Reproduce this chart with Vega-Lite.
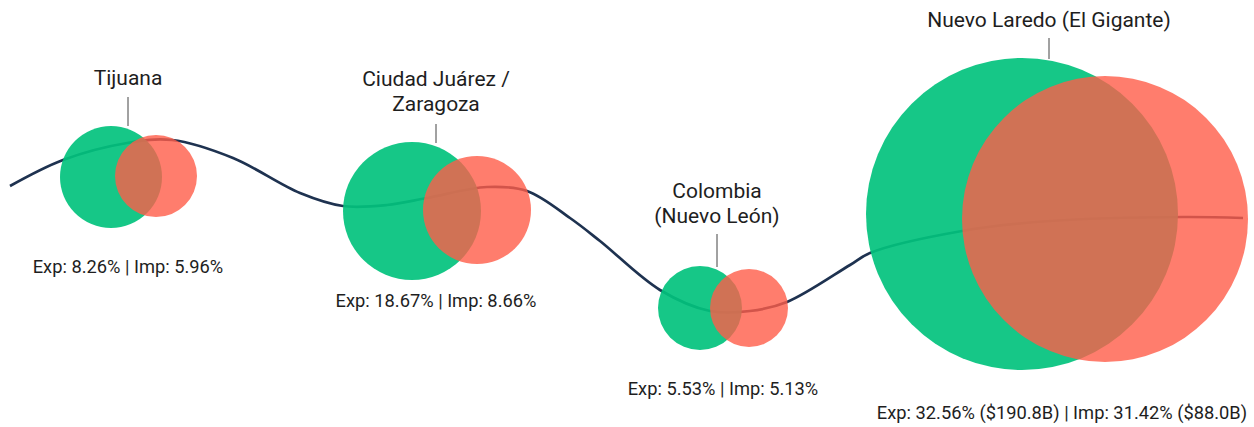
{
  "$schema": "https://vega.github.io/schema/vega-lite/v6.json",
  "width": 1254,
  "height": 427,
  "padding": 0,
  "autosize": {"type": "fit", "contains": "padding"},
  "background": "white",
  "config": {"view": {"stroke": null}},
  "datasets": {
    "wave": [
      {"x": 10, "y": 186}, {"x": 63, "y": 160}, {"x": 127, "y": 143}, {"x": 172, "y": 140},
      {"x": 233, "y": 158}, {"x": 300, "y": 193}, {"x": 343, "y": 206}, {"x": 387, "y": 205},
      {"x": 427, "y": 198}, {"x": 487, "y": 187}, {"x": 527, "y": 191}, {"x": 570, "y": 218},
      {"x": 600, "y": 241}, {"x": 660, "y": 290}, {"x": 710, "y": 311}, {"x": 750, "y": 311},
      {"x": 787, "y": 302}, {"x": 850, "y": 265}, {"x": 870, "y": 253}, {"x": 962, "y": 231},
      {"x": 1050, "y": 221}, {"x": 1183, "y": 217}, {"x": 1243, "y": 218}
    ],
    "bubbles": [
      {"port": "Tijuana", "flow": "Exp", "pct": 8.26, "x": 111, "y": 177, "mag": 51},
      {"port": "Ciudad Juárez / Zaragoza", "flow": "Exp", "pct": 18.67, "x": 412, "y": 211, "mag": 69},
      {"port": "Colombia (Nuevo León)", "flow": "Exp", "pct": 5.53, "x": 700, "y": 308, "mag": 42},
      {"port": "Nuevo Laredo (El Gigante)", "flow": "Exp", "pct": 32.56, "x": 1022, "y": 214, "mag": 156},
      {"port": "Tijuana", "flow": "Imp", "pct": 5.96, "x": 156, "y": 176, "mag": 41},
      {"port": "Ciudad Juárez / Zaragoza", "flow": "Imp", "pct": 8.66, "x": 477, "y": 210, "mag": 54},
      {"port": "Colombia (Nuevo León)", "flow": "Imp", "pct": 5.13, "x": 749, "y": 308, "mag": 39},
      {"port": "Nuevo Laredo (El Gigante)", "flow": "Imp", "pct": 31.42, "x": 1105, "y": 219, "mag": 143}
    ],
    "labels": [
      {"name": "Tijuana", "x": 128, "ny": 79, "t1": 97, "t2": 126, "stat": "Exp: 8.26% | Imp: 5.96%", "sx": 128, "sy": 268},
      {"name": "Ciudad Juárez /\nZaragoza", "x": 436, "ny": 80, "t1": 124, "t2": 143, "stat": "Exp: 18.67% | Imp: 8.66%", "sx": 436, "sy": 302},
      {"name": "Colombia\n(Nuevo León)", "x": 717, "ny": 192, "t1": 234, "t2": 267, "stat": "Exp: 5.53% | Imp: 5.13%", "sx": 723, "sy": 390},
      {"name": "Nuevo Laredo (El Gigante)", "x": 1049, "ny": 21, "t1": 38, "t2": 59, "stat": "Exp: 32.56% ($190.8B) | Imp: 31.42% ($88.0B)", "sx": 1062, "sy": 414}
    ]
  },
  "encoding": {
    "x": {"type": "quantitative", "scale": {"domain": [0, 1254], "nice": false, "zero": false}, "axis": null},
    "y": {"type": "quantitative", "scale": {"domain": [0, 427], "nice": false, "zero": false, "reverse": true}, "axis": null}
  },
  "layer": [
    {
      "data": {"name": "wave"},
      "mark": {"type": "line", "interpolate": "catmull-rom", "color": "#1E3250", "strokeWidth": 2.7},
      "encoding": {"x": {"field": "x", "type": "quantitative"}, "y": {"field": "y", "type": "quantitative"}}
    },
    {
      "data": {"name": "bubbles"},
      "mark": {"type": "circle", "strokeWidth": 0},
      "encoding": {
        "x": {"field": "x", "type": "quantitative"},
        "y": {"field": "y", "type": "quantitative"},
        "size": {"field": "mag", "type": "quantitative", "scale": {"type": "pow", "exponent": 2, "domain": [0, 160], "range": [0, 102400]}, "legend": null},
        "color": {"field": "flow", "type": "nominal", "scale": {"domain": ["Exp", "Imp"], "range": ["#02C27D", "#FF5C48"]}, "legend": null},
        "opacity": {"field": "flow", "type": "nominal", "scale": {"domain": ["Exp", "Imp"], "range": [0.92, 0.8]}, "legend": null}
      }
    },
    {
      "data": {"name": "labels"},
      "mark": {"type": "rule", "color": "#444444", "strokeWidth": 1},
      "encoding": {
        "x": {"field": "x", "type": "quantitative"},
        "y": {"field": "t1", "type": "quantitative"},
        "y2": {"field": "t2"}
      }
    },
    {
      "data": {"name": "labels"},
      "mark": {"type": "text", "font": "Roboto", "fontSize": 21, "color": "#1E1E1E", "align": "center", "baseline": "middle", "lineBreak": "\n", "lineHeight": 25},
      "encoding": {
        "x": {"field": "x", "type": "quantitative"},
        "y": {"field": "ny", "type": "quantitative"},
        "text": {"field": "name"}
      }
    },
    {
      "data": {"name": "labels"},
      "mark": {"type": "text", "font": "Roboto", "fontSize": 18.3, "color": "#1E1E1E", "align": "center", "baseline": "middle"},
      "encoding": {
        "x": {"field": "sx", "type": "quantitative"},
        "y": {"field": "sy", "type": "quantitative"},
        "text": {"field": "stat"}
      }
    }
  ]
}
